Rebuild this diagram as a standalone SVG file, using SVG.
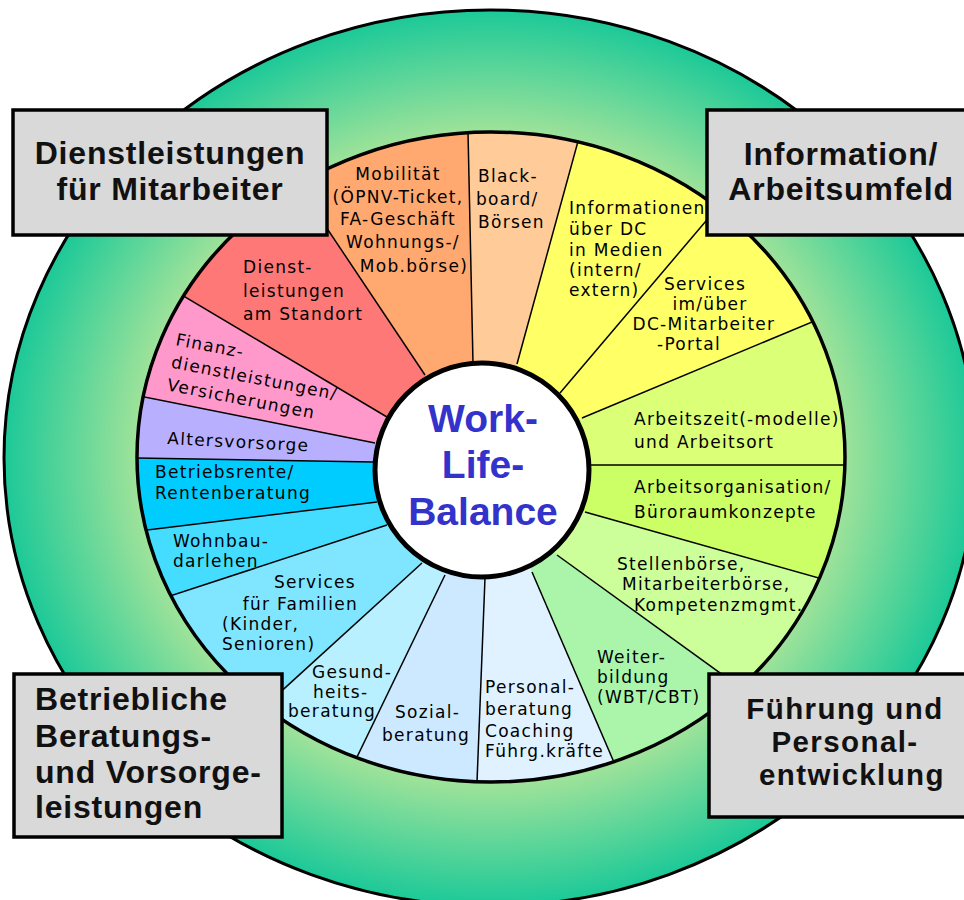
<svg xmlns="http://www.w3.org/2000/svg" width="964" height="900" viewBox="0 0 964 900">
<style>
.sec{stroke:none}
.t{font-family:"DejaVu Sans","Liberation Sans",sans-serif;font-size:17px;letter-spacing:1.3px;fill:#000}
.m{text-anchor:middle}
.e{text-anchor:end}
.div{stroke:#000;stroke-width:1.5;fill:none}
.box{fill:#d9d9d9;stroke:#000;stroke-width:3.5}
.bt{font-family:"Liberation Sans",Arial,sans-serif;font-size:32px;font-weight:bold;letter-spacing:0.8px;fill:#111}
.bs{font-size:29.5px;letter-spacing:1.4px}
.ct{font-family:"Liberation Sans",Arial,sans-serif;font-size:39px;font-weight:bold;fill:#3333cc;text-anchor:middle}
</style>
<defs>
<radialGradient id="ring" cx="0.5" cy="0.5" r="0.5">
<stop offset="0.72" stop-color="#a2e39a"/>
<stop offset="1" stop-color="#1cc998"/>
</radialGradient>
<clipPath id="wheelClip"><ellipse cx="491" cy="457" rx="354" ry="325"/></clipPath>
</defs>

<g id="outer-ring">
<ellipse cx="490" cy="458" rx="486" ry="448" fill="url(#ring)" stroke="#000" stroke-width="3"/>
</g>

<g id="wheel" clip-path="url(#wheelClip)">
<g id="s-mobilitaet"><polygon class="sec" fill="#ffa970" points="482,470 425,375 234.5,90 465.5,16.5 473,363"/></g>
<g id="s-blackboard"><polygon class="sec" fill="#ffcc99" points="482,470 473,363 465.5,16.5 607,35.5 517,364"/></g>
<g id="s-informationen"><polygon class="sec" fill="#ffff66" points="482,470 517,364 607,35.5 795.5,115.5 560,393"/></g>
<g id="s-services-portal"><polygon class="sec" fill="#ffff66" points="482,470 560,393 795.5,115.5 927,274 582,418"/></g>
<g id="s-arbeitszeit"><polygon class="sec" fill="#dcff78" points="482,470 582,418 927,274 974,465 590,465"/></g>
<g id="s-arbeitsorganisation"><polygon class="sec" fill="#ccff66" points="482,470 590,465 974,465 936,611 585,512"/></g>
<g id="s-stellenboerse"><polygon class="sec" fill="#ccff99" points="482,470 585,512 936,611 832,754 557,555"/></g>
<g id="s-weiterbildung"><polygon class="sec" fill="#aaf5aa" points="482,470 557,555 832,754 653.5,854 532,572"/></g>
<g id="s-personalberatung"><polygon class="sec" fill="#e0f2ff" points="482,470 532,572 653.5,854 473,884 485,578"/></g>
<g id="s-sozialberatung"><polygon class="sec" fill="#cce9ff" points="482,470 485,578 473,884 314.5,845 445,575"/></g>
<g id="s-gesundheitsberatung"><polygon class="sec" fill="#b8f0ff" points="482,470 445,575 314.5,845 185,779 422,563"/></g>
<g id="s-familien"><polygon class="sec" fill="#80e6ff" points="482,470 422,563 185,779 66,630 387,525"/></g>
<g id="s-wohnbau"><polygon class="sec" fill="#44ddff" points="482,470 387,525 66,630 33.5,544 377,502"/></g>
<g id="s-betriebsrente"><polygon class="sec" fill="#00ccff" points="482,470 377,502 33.5,544 19,456 373,462"/></g>
<g id="s-altersvorsorge"><polygon class="sec" fill="#b8b0ff" points="482,470 373,462 19,456 30,374 375,443"/></g>
<g id="s-finanz"><polygon class="sec" fill="#ff99cc" points="482,470 375,443 30,374 84,237 387,417"/></g>
<g id="s-dienstleistungen"><polygon class="sec" fill="#ff7878" points="482,470 387,417 84,237 234.5,90 425,375"/></g>
</g>

<g id="connectors" clip-path="url(#wheelClip)">
<line class="div" stroke-width="2" x1="473" y1="363" x2="465.5" y2="16.5"/>
<line class="div" x1="517" y1="364" x2="607" y2="35.5"/>
<line class="div" x1="560" y1="393" x2="795.5" y2="115.5"/>
<line class="div" x1="582" y1="418" x2="927" y2="274"/>
<line class="div" x1="590" y1="465" x2="974" y2="465"/>
<line class="div" x1="585" y1="512" x2="936" y2="611"/>
<line class="div" x1="557" y1="555" x2="832" y2="754"/>
<line class="div" x1="532" y1="572" x2="653.5" y2="854"/>
<line class="div" stroke-width="2.5" x1="485" y1="578" x2="473" y2="884"/>
<line class="div" x1="445" y1="575" x2="314.5" y2="845"/>
<line class="div" x1="422" y1="563" x2="185" y2="779"/>
<line class="div" x1="387" y1="525" x2="66" y2="630"/>
<line class="div" x1="377" y1="502" x2="33.5" y2="544"/>
<line class="div" x1="373" y1="462" x2="19" y2="456"/>
<line class="div" x1="375" y1="443" x2="30" y2="374"/>
<line class="div" x1="387" y1="417" x2="84" y2="237"/>
<line class="div" x1="425" y1="375" x2="234.5" y2="90"/>
</g>

<g id="wheel-rim">
<ellipse cx="491" cy="457" rx="354" ry="325" fill="none" stroke="#000" stroke-width="3.5"/>
</g>

<g id="labels">
<g id="l-mobilitaet">
<text class="t m" x="398" y="180">Mobilität</text>
<text class="t m" x="398" y="203">(ÖPNV-Ticket,</text>
<text class="t m" x="398" y="225">FA-Geschäft</text>
<text class="t m" x="403" y="248">Wohnungs-/</text>
<text class="t m" x="414" y="272">Mob.börse)</text>
</g>
<g id="l-blackboard">
<text class="t" x="478" y="182">Black-</text>
<text class="t" x="476" y="205">board/</text>
<text class="t" x="478" y="228">Börsen</text>
</g>
<g id="l-informationen">
<text class="t" x="569" y="214">Informationen</text>
<text class="t" x="569" y="235">über DC</text>
<text class="t" x="569" y="256">in Medien</text>
<text class="t" x="569" y="276">(intern/</text>
<text class="t" x="569" y="296">extern)</text>
</g>
<g id="l-services-portal">
<text class="t m" x="705" y="290">Services</text>
<text class="t m" x="710" y="310">im/über</text>
<text class="t m" x="704" y="330">DC-Mitarbeiter</text>
<text class="t m" x="689" y="350">-Portal</text>
</g>
<g id="l-arbeitszeit">
<text class="t" x="634" y="425">Arbeitszeit(-modelle)</text>
<text class="t" x="634" y="448">und Arbeitsort</text>
</g>
<g id="l-arbeitsorganisation">
<text class="t" x="634" y="493">Arbeitsorganisation/</text>
<text class="t" x="634" y="518">Büroraumkonzepte</text>
</g>
<g id="l-stellenboerse">
<text class="t" x="617" y="570">Stellenbörse,</text>
<text class="t" x="622" y="590">Mitarbeiterbörse,</text>
<text class="t" x="634" y="611">Kompetenzmgmt.</text>
</g>
<g id="l-weiterbildung">
<text class="t" x="597" y="663">Weiter-</text>
<text class="t" x="597" y="683">bildung</text>
<text class="t" x="597" y="703">(WBT/CBT)</text>
</g>
<g id="l-personalberatung">
<text class="t" x="485" y="693">Personal-</text>
<text class="t" x="485" y="715">beratung</text>
<text class="t" x="485" y="737">Coaching</text>
<text class="t" x="485" y="757">Führg.kräfte</text>
</g>
<g id="l-sozialberatung">
<text class="t" x="395" y="718">Sozial-</text>
<text class="t" x="382" y="741">beratung</text>
</g>
<g id="l-gesundheitsberatung">
<text class="t" x="312" y="678">Gesund-</text>
<text class="t" x="313" y="698">heits-</text>
<text class="t" x="288" y="717">beratung</text>
</g>
<g id="l-familien">
<text class="t e" x="356" y="588">Services</text>
<text class="t e" x="358" y="610">für Familien</text>
<text class="t" x="222" y="630">(Kinder,</text>
<text class="t" x="222" y="650">Senioren)</text>
</g>
<g id="l-wohnbau">
<text class="t" x="173" y="547">Wohnbau-</text>
<text class="t" x="173" y="567">darlehen</text>
</g>
<g id="l-betriebsrente">
<text class="t" x="155" y="478">Betriebsrente/</text>
<text class="t" x="155" y="499">Rentenberatung</text>
</g>
<g id="l-altersvorsorge">
<text class="t" x="167" y="444" transform="rotate(3 167 444)">Altersvorsorge</text>
</g>
<g id="l-finanz" transform="translate(175,345) rotate(11)">
<text class="t" x="0" y="0">Finanz-</text>
<text class="t" x="0" y="23">dienstleistungen/</text>
<text class="t" x="0" y="46">Versicherungen</text>
</g>
<g id="l-dienstleistungen">
<text class="t" x="243" y="273">Dienst-</text>
<text class="t" x="243" y="297">leistungen</text>
<text class="t" x="243" y="320">am Standort</text>
</g>
</g>

<g id="center">
<circle cx="482" cy="470" r="107" fill="#fff" stroke="#000" stroke-width="5"/>
<text class="ct" x="483" y="432">Work-</text>
<text class="ct" x="483" y="478">Life-</text>
<text class="ct" x="483" y="525">Balance</text>
</g>

<g id="box-dienstleistungen">
<rect class="box" x="13" y="110" width="314" height="125"/>
<text class="bt" x="170" y="164" text-anchor="middle">Dienstleistungen</text>
<text class="bt" x="170" y="200" text-anchor="middle">für Mitarbeiter</text>
</g>
<g id="box-information">
<rect class="box" x="707" y="110" width="275" height="125"/>
<text class="bt" x="841" y="165" text-anchor="middle">Information/</text>
<text class="bt" x="841" y="200" text-anchor="middle">Arbeitsumfeld</text>
</g>
<g id="box-beratung">
<rect class="box" x="14" y="674" width="268" height="163"/>
<text class="bt" x="35" y="710">Betriebliche</text>
<text class="bt" x="35" y="747">Beratungs-</text>
<text class="bt" x="35" y="783">und Vorsorge-</text>
<text class="bt" x="35" y="818">leistungen</text>
</g>
<g id="box-fuehrung">
<rect class="box" x="709" y="674" width="275" height="143"/>
<text class="bt bs" x="845" y="719" text-anchor="middle">Führung und</text>
<text class="bt bs" x="845" y="752" text-anchor="middle">Personal-</text>
<text class="bt bs" x="852" y="785" text-anchor="middle">entwicklung</text>
</g>
</svg>
